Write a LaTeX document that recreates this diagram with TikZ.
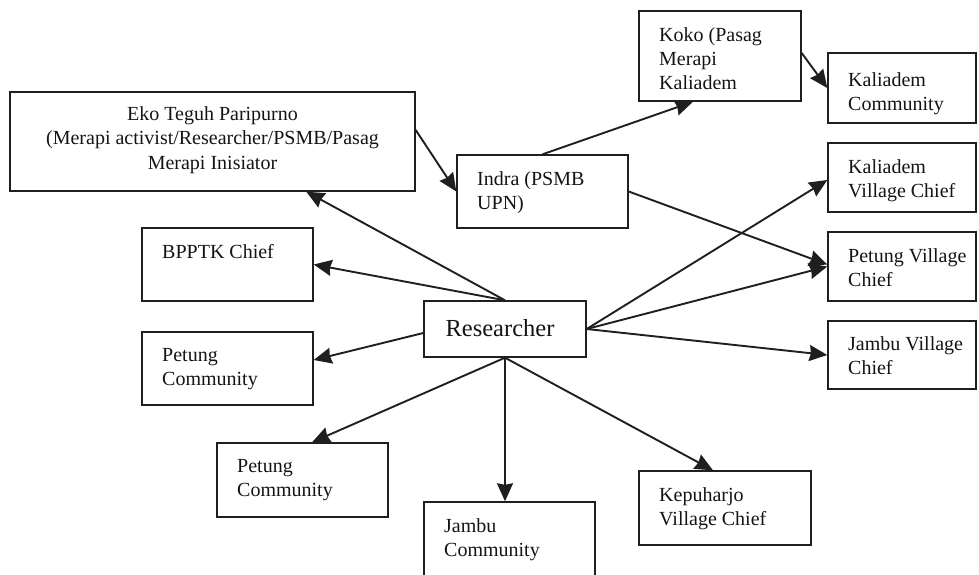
\documentclass[tikz,border=0pt]{standalone}
\usepackage{fontspec}
\setmainfont{Liberation Serif}
\usetikzlibrary{arrows.meta,calc}
\begin{document}
\begin{tikzpicture}[x=1pt,y=-1pt,
  box/.style={draw=black!88, line width=1.4pt, inner sep=0pt},
  txt/.style={inner sep=0pt, anchor=north west, align=left, font=\fontsize{20}{24}\selectfont, text=black!92},
  ctxt/.style={inner sep=0pt, anchor=north, align=center, font=\fontsize{20}{24.5}\selectfont, text=black!92},
  arr/.style={draw=black!88, line width=1.9pt, -{Stealth[length=18pt,width=16pt,inset=1.5pt]}}]
\useasboundingbox (0,0) rectangle (979,574);
% boxes
\node[box, minimum width=405pt, minimum height=99pt] (eko) at (212.5,141.5) {};
\node[box, minimum width=162pt, minimum height=90pt] (koko) at (720,56) {};
\node[box, minimum width=148pt, minimum height=70pt] (kalcom) at (902,88) {};
\node[box, minimum width=171pt, minimum height=73pt] (indra) at (542.5,191.5) {};
\node[box, minimum width=148pt, minimum height=69pt] (kvc) at (902,177.5) {};
\node[box, minimum width=148pt, minimum height=69pt] (pvc) at (902,266.5) {};
\node[box, minimum width=148pt, minimum height=68pt] (jvc) at (902,355) {};
\node[box, minimum width=171pt, minimum height=73pt] (bp) at (227.5,264.5) {};
\node[box, minimum width=171pt, minimum height=73pt] (pc1) at (227.5,368.5) {};
\node[box, minimum width=162pt, minimum height=56pt] (r) at (505,329) {};
\node[box, minimum width=171pt, minimum height=74pt] (pc2) at (302.5,480) {};
\node[box, minimum width=171pt, minimum height=98pt] (jc) at (509.5,551) {};
\node[box, minimum width=172pt, minimum height=74pt] (kep) at (725,508) {};
% texts
\node[ctxt] (ekot) at (212.5,106) {Eko Teguh Paripurno\\(Merapi activist/Researcher/PSMB/Pasag\\Merapi Inisiator};
\node[txt] (kokot) at (659,27) {Koko (Pasag\\Merapi\\Kaliadem};
\node[txt] (kalcomt) at (848,72) {Kaliadem\\Community};
\node[txt] (indrat) at (477,171) {Indra (PSMB\\UPN)};
\node[txt] (kvct) at (848,159) {Kaliadem\\Village Chief};
\node[txt] (pvct) at (848,248) {Petung Village\\Chief};
\node[txt] (jvct) at (848,336) {Jambu Village\\Chief};
\node[txt] (bpt) at (162,244) {BPPTK Chief};
\node[txt] (pc1t) at (162,348) {Petung\\Community};
\node[txt] (pc2t) at (237,459) {Petung\\Community};
\node[txt] (jct) at (444,518) {Jambu\\Community};
\node[txt] (kept) at (659,487) {Kepuharjo\\Village Chief};
\node[inner sep=0pt, anchor=base, font=\fontsize{24.5}{28}\selectfont, text=black!92] (rt) at (500,336) {Researcher};
% arrows
\draw[arr] (r.north) -- ([xshift=297pt]eko.south west);
\draw[arr] (r.north) -- (bp.east);
\draw[arr] ([yshift=-4pt]r.west) -- ([yshift=8.5pt]pc1.east);
\draw[arr] (r.south) -- ([xshift=9.5pt]pc2.north);
\draw[arr] (r.south) -- (r.south |- jc.north);
\draw[arr] (r.south) -- ([xshift=-12pt]kep.north);
\draw[arr] (r.east) -- ([yshift=-2.5pt]kvc.west);
\draw[arr] (r.east) -- (pvc.west);
\draw[arr] (r.east) -- (jvc.west);
\draw[arr] ([yshift=11.5pt]eko.east) -- (indra.west);
\draw[arr] (indra.north) -- ([xshift=-27pt]koko.south);
\draw[arr] ([yshift=3pt]koko.east) -- (kalcom.west);
\draw[arr] (indra.east) -- ([yshift=2pt]pvc.west);
\end{tikzpicture}
\end{document}
